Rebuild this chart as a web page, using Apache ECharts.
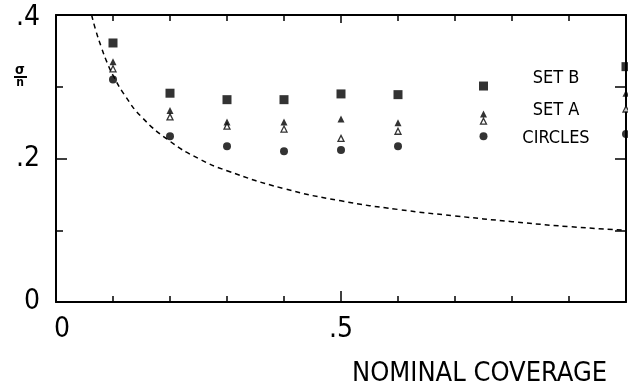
<!DOCTYPE html>
<html>
<head>
<meta charset="utf-8">
<script src="https://cdn.jsdelivr.net/npm/echarts@6/dist/echarts.min.js"></script>
<style>html,body{margin:0;padding:0;background:#fff}#c{width:628px;height:392px}</style>
</head>
<body>
<div id="c"></div>
<script>
// ---- data ----
const coverage   = [0.1, 0.2, 0.3, 0.4, 0.5, 0.6, 0.75, 1.0];
const setB       = [0.361, 0.291, 0.282, 0.282, 0.290, 0.289, 0.301, 0.328];
const setAFilled = [0.335, 0.267, 0.251, 0.251, 0.255, 0.250, 0.262, 0.291];
const setAOpen   = [0.325, 0.258, 0.245, 0.241, 0.228, 0.238, 0.252, 0.269];
const circles    = [0.310, 0.231, 0.217, 0.210, 0.212, 0.217, 0.231, 0.234];
const curveX     = [0.0625, 0.07, 0.08, 0.09, 0.1, 0.12, 0.15, 0.2, 0.25, 0.3, 0.4, 0.5, 0.6, 0.7, 0.8, 0.9, 1.0];
const curveY     = [0.400, 0.378, 0.354, 0.333, 0.316, 0.289, 0.258, 0.224, 0.200, 0.183, 0.158, 0.141, 0.129, 0.120, 0.112, 0.105, 0.100];
const xTickValues = [0, 0.5];
const xTickLabels = ['0', '.5'];
const yTickValues = [0, 0.2, 0.4];
const yTickLabels = ['0', '.2', '.4'];
const legendTexts = ['SET B', 'SET A', 'CIRCLES'];
const xAxisTitle = 'NOMINAL COVERAGE';

const FONT = "'DejaVu Sans Condensed', 'Liberation Sans Narrow', 'DejaVu Sans', sans-serif";
function pairs(xs, ys) { return xs.map((x, i) => [x, ys[i]]); }
function lab(vals, labs, styleFor) {
  return function (v) {
    for (let i = 0; i < vals.length; i++) {
      if (Math.abs(v - vals[i]) < 1e-6) return '{' + styleFor(i, vals.length) + '|' + labs[i] + '}';
    }
    return '';
  };
}
const axisLine = { show: true, onZero: false, lineStyle: { color: '#000', width: 2 } };
const labFont = { color: '#000', fontSize: 28, fontFamily: FONT };

const chart = echarts.init(document.getElementById('c'), null, { renderer: 'canvas' });
chart.setOption({
  animation: false,
  backgroundColor: '#fff',
  grid: { left: 56, right: 2, top: 15, bottom: 90, containLabel: false, outerBoundsMode: 'none' },
  xAxis: [{
    type: 'value', min: 0, max: 1, interval: 0.5, position: 'bottom',
    axisLine: axisLine,
    axisTick: { show: true, inside: true, length: 11, lineStyle: { color: '#000', width: 1.5 } },
    minorTick: { show: true, splitNumber: 5, length: 6, lineStyle: { color: '#000', width: 1.5 } },
    splitLine: { show: false },
    axisLabel: Object.assign({ margin: 14,
      formatter: lab(xTickValues, xTickLabels, (i) => i === 0 ? 'z' : 'n'),
      rich: { z: Object.assign({ padding: [0, 0, 0, 12] }, labFont), n: Object.assign({}, labFont) } }, labFont)
  }, {
    type: 'value', min: 0, max: 1, interval: 0.5, position: 'top',
    axisLine: axisLine,
    axisTick: { show: true, inside: true, length: 8, lineStyle: { color: '#000', width: 1.5 } },
    minorTick: { show: true, splitNumber: 5, length: 6, lineStyle: { color: '#000', width: 1.5 } },
    splitLine: { show: false }, axisLabel: { show: false }
  }],
  yAxis: [{
    type: 'value', min: 0, max: 0.4, interval: 0.2, position: 'left',
    axisLine: axisLine,
    axisTick: { show: true, inside: true, length: 11, lineStyle: { color: '#000', width: 1.5 } },
    minorTick: { show: true, splitNumber: 2, length: 7, lineStyle: { color: '#000', width: 1.5 } },
    splitLine: { show: false },
    axisLabel: Object.assign({ margin: 16,
      formatter: lab(yTickValues, yTickLabels, (i, n) => i === n - 1 ? 't' : 'n'),
      rich: { t: Object.assign({ padding: [6, 0, 0, 0] }, labFont), n: Object.assign({}, labFont) } }, labFont)
  }, {
    type: 'value', min: 0, max: 0.4, interval: 0.2, position: 'right',
    axisLine: axisLine,
    axisTick: { show: true, inside: true, length: 11, lineStyle: { color: '#000', width: 1.5 } },
    minorTick: { show: true, splitNumber: 2, length: 11, lineStyle: { color: '#000', width: 1.5 } },
    splitLine: { show: false }, axisLabel: { show: false }
  }],
  series: [
    { type: 'line', data: pairs(curveX, curveY), smooth: true, showSymbol: false, silent: true,
      lineStyle: { color: '#000', width: 1.5, type: [5, 4] } },
    { name: 'SET B', type: 'scatter', data: pairs(coverage, setB), symbol: 'rect', symbolSize: 9,
      itemStyle: { color: '#000' } },
    { name: 'SET A', type: 'scatter', data: pairs(coverage, setAFilled), symbol: 'triangle', symbolSize: 7,
      itemStyle: { color: '#000' } },
    { name: 'SET A (open)', type: 'scatter', data: pairs(coverage, setAOpen), symbol: 'triangle', symbolSize: 6,
      itemStyle: { color: '#fff', borderColor: '#000', borderWidth: 1.3 } },
    { name: 'CIRCLES', type: 'scatter', data: pairs(coverage, circles), symbol: 'circle', symbolSize: 8,
      itemStyle: { color: '#000' } }
  ],
  graphic: [
    { type: 'text', style: { x: 352, y: 374, text: xAxisTitle, fill: '#000', font: '27px ' + FONT, textVerticalAlign: 'middle' } },
    { type: 'text', style: { x: 556, y: 78, text: legendTexts[0], fill: '#000', font: '18px ' + FONT, textAlign: 'center', textVerticalAlign: 'middle' } },
    { type: 'text', style: { x: 556, y: 110, text: legendTexts[1], fill: '#000', font: '18px ' + FONT, textAlign: 'center', textVerticalAlign: 'middle' } },
    { type: 'text', style: { x: 556, y: 138, text: legendTexts[2], fill: '#000', font: '18px ' + FONT, textAlign: 'center', textVerticalAlign: 'middle' } },
    { type: 'text', style: { x: 20, y: 70, text: 'σ', fill: '#000', font: 'bold 14px ' + FONT, textAlign: 'center', textVerticalAlign: 'middle' } },
    { type: 'line', shape: { x1: 14, y1: 77, x2: 27, y2: 77 }, style: { stroke: '#000', lineWidth: 2 } },
    { type: 'text', style: { x: 20, y: 83, text: 'n', fill: '#000', font: 'bold 12px ' + FONT, textAlign: 'center', textVerticalAlign: 'middle' } }
  ]
});
</script>
</body>
</html>
